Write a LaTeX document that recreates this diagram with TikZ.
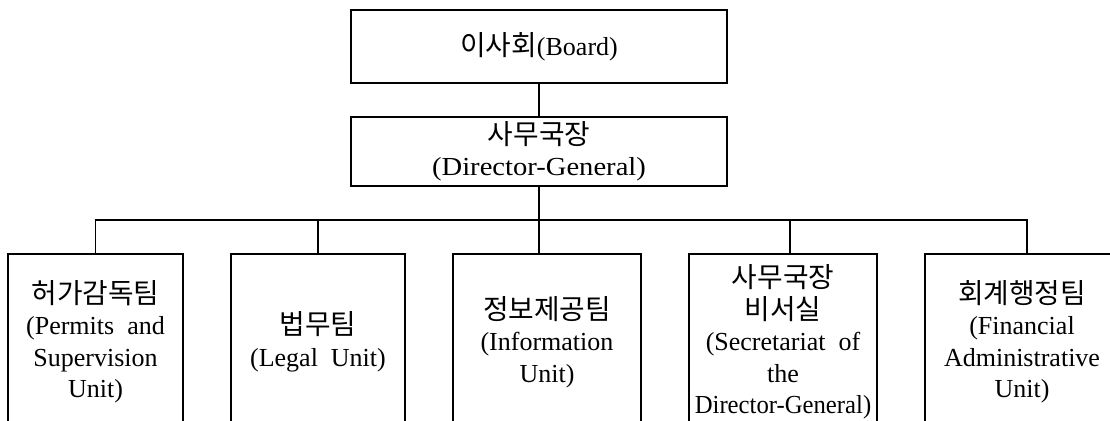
\documentclass[tikz,border=0pt]{standalone}
\usepackage{fontspec}
\usepackage{graphicx}
\setmainfont{Liberation Serif}
\newfontfamily\kr[Scale=1.07]{Noto Sans CJK KR}
\tikzset{
	topbox/.style={draw, line width=1.2pt, inner sep=0pt, align=center, minimum width=376pt},
	unitbox/.style={draw, line width=1.2pt, inner sep=0pt, align=center, minimum height=176pt},
	link/.style={line width=1.2pt}
}
\begin{document}
\begin{tikzpicture}[x=1pt, y=-1pt, font=\fontsize{26}{31.5}\selectfont]
		\useasboundingbox (0,0) rectangle (1110,420);
		\clip (0,0) rectangle (1110,420);
		\node[topbox, minimum height=73pt] (board) at (539,46.5) {{\kr 이사회}(Board)};
		\node[topbox, minimum height=69pt] (dg) at (539,151.5) {{\kr 사무국장}\\\scalebox{1.1}[1]{(Director-General)}};
		\node[unitbox, minimum width=175pt] (permits) at (95.5,342) {{\kr 허가감독팀}\\(Permits\ \ and\\Supervision\\Unit)};
		\node[unitbox, minimum width=174pt] (legal) at (318,342) {{\kr 법무팀}\\(Legal\ \ Unit)};
		\node[unitbox, minimum width=188pt] (info) at (547,342) {{\kr 정보제공팀}\\(Information\\Unit)};
		\node[unitbox, minimum width=188pt] (secr) at (783,342) {{\kr 사무국장}\\{\kr 비서실}\\(Secretariat\ \ of\\the\\\scalebox{0.95}[1]{Director-General)}};
		\node[unitbox, minimum width=194pt] (fin) at (1022,342) {{\kr 회계행정팀}\\(Financial\\Administrative\\Unit)};
		\coordinate (bar) at (539,220);
		\draw[link] (board) -- (dg);
		\draw[link] (dg.south) -- (dg.south |- info.north);
		\draw[link] (permits.north) -- (permits.north |- bar) -- ([xshift=5pt]fin.north |- bar) -- ([xshift=5pt]fin.north);
		\draw[link] (legal.north) -- (legal.north |- bar);
		\draw[link] ([xshift=7pt]secr.north) -- ([xshift=7pt]secr.north |- bar);
	\end{tikzpicture}
\end{document}
